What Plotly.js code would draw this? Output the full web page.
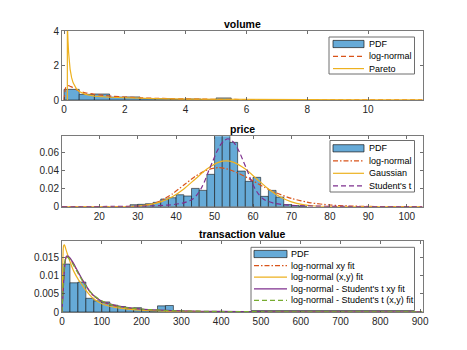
<!DOCTYPE html>
<html>
<head>
<meta charset="utf-8">
<script src="https://cdn.plot.ly/plotly-3.0.1.min.js"></script>
<style>
  html, body { margin: 0; padding: 0; background: #fff; }
  #chart { width: 467px; height: 350px; }
</style>
</head>
<body>
<div id="chart"></div>
<script>
// === Data ===

// volume
const volBinWidth = 0.5;
const volBinStart = [0, 0.5, 1, 1.5, 2, 2.5, 3, 3.5, 4, 4.5, 5];
const volPdf = [0.62, 0.33, 0.35, 0.17, 0.18, 0.08, 0.08, 0.04, 0.06, 0.02, 0.12];
const volLnX = [0, 0.02, 0.05, 0.1, 0.15, 0.2, 0.3, 0.4, 0.5, 0.7, 1, 1.3, 1.6, 2, 2.5, 3, 3.5, 4, 5, 6, 7, 8, 10, 11.8];
const volLnY = [0, 0.3, 0.7, 0.84, 0.84, 0.8, 0.72, 0.61, 0.52, 0.42, 0.33, 0.27, 0.22, 0.17, 0.13, 0.1, 0.08, 0.062, 0.04, 0.027, 0.019, 0.014, 0.008, 0.005];
const volParX = [0.11, 0.11, 0.13, 0.15, 0.2, 0.25, 0.3, 0.4, 0.5, 0.7, 1, 1.5, 2, 3, 4, 6, 8, 10, 11.8];
const volParY = [0, 4.5, 3.5, 2.8, 1.8, 1.3, 1.0, 0.68, 0.5, 0.33, 0.23, 0.16, 0.12, 0.08, 0.055, 0.03, 0.018, 0.012, 0.009];

// price
const priceBinWidth = 2;
const priceBinStart = [28, 30, 32, 34, 36, 38, 40, 42, 44, 46, 48, 50, 52, 54, 56, 58, 60, 62, 64, 66, 68, 70, 72];
const pricePdf = [0.0022, 0.0026, 0.0033, 0.0048, 0.0085, 0.0099, 0.0132, 0.0118, 0.0202, 0.018, 0.0357, 0.088, 0.086, 0.071, 0.0393, 0.028, 0.0324, 0.0114, 0.018, 0.0106, 0.0023, 0.0012, 0.0006];
const priceLnX = [10.3, 25, 30, 33, 36, 39, 42, 45, 48, 51, 54, 57, 60, 63, 66, 70, 75, 80, 85, 90, 104.1];
const priceLnY = [0, 0.00002, 0.00055, 0.0023, 0.0066, 0.0141, 0.0239, 0.0337, 0.0404, 0.0432, 0.0408, 0.0353, 0.0285, 0.0214, 0.0153, 0.0091, 0.0043, 0.0019, 0.00076, 0.0003, 0.00002];
const priceGaussX = [10.3, 25, 30, 33, 36, 39, 42, 45, 48, 51, 53, 55, 58, 61, 64, 67, 70, 73, 76, 81, 90, 104.1];
const priceGaussY = [0, 0.0001, 0.0008, 0.0022, 0.0053, 0.0109, 0.0196, 0.0306, 0.0415, 0.0489, 0.0505, 0.0489, 0.0415, 0.0306, 0.0196, 0.0109, 0.0053, 0.0022, 0.0008, 0.0001, 0, 0];
const priceTX = [10.3, 23.5, 33.5, 38.5, 41.5, 43.5, 44.5, 45.5, 46.5, 47.5, 48.5, 49.5, 50.5, 51.5, 52.5, 53.5, 54.5, 55.5, 56.5, 57.5, 58.5, 59.5, 60.5, 61.5, 62.5, 63.5, 65.5, 68.5, 73.5, 83.5, 98.5, 104.1];
const priceTY = [0.0001, 0.0003, 0.0009, 0.002, 0.0038, 0.0065, 0.009, 0.0135, 0.02, 0.029, 0.04, 0.05, 0.06, 0.068, 0.073, 0.075, 0.073, 0.068, 0.06, 0.05, 0.04, 0.029, 0.02, 0.0135, 0.009, 0.0065, 0.0038, 0.002, 0.0009, 0.0003, 0.0001, 0.0001];

// transaction value
const tvBinWidth = 20;
const tvBinStart = [0, 20, 40, 60, 80, 100, 120, 140, 160, 180, 200, 220, 240, 260, 280, 300, 320];
const tvPdf = [0.0133, 0.0081, 0.0083, 0.0038, 0.0031, 0.0028, 0.0019, 0.0015, 0.0009, 0.0012, 0.0005, 0.0003, 0.0017, 0.0018, 0.0002, 0.0001, 0.0001];
const tvX = [0, 2, 4, 6, 8, 10, 12, 15, 20, 25, 30, 40, 50, 60, 70, 80, 100, 120, 150, 200, 250, 300, 400, 500, 600, 700, 800, 906];
const tvLnXY = [0, 0.0045, 0.0088, 0.0122, 0.0143, 0.0152, 0.0154, 0.0153, 0.0147, 0.0139, 0.013, 0.011, 0.009, 0.0073, 0.0056, 0.0044, 0.0029, 0.0021, 0.0013, 0.0007, 0.0004, 0.0002, 0.0001, 0.00005, 0.00002, 0.00001, 0, 0];
const tvLnPair = [0, 0.0135, 0.0184, 0.0186, 0.0181, 0.0173, 0.0166, 0.0156, 0.014, 0.0125, 0.0112, 0.0092, 0.0076, 0.006, 0.0047, 0.0036, 0.0023, 0.0016, 0.001, 0.0005, 0.0003, 0.0002, 0.0001, 0.00005, 0.00002, 0.00001, 0, 0];
const tvLnTXY = [0, 0.004, 0.008, 0.0115, 0.0139, 0.0151, 0.0155, 0.0155, 0.015, 0.0142, 0.0133, 0.0112, 0.0092, 0.0074, 0.0057, 0.0045, 0.003, 0.0023, 0.0015, 0.0008, 0.0005, 0.0003, 0.00015, 0.00008, 0.00005, 0.00003, 0.00002, 0.00001];
const tvLnTPair = [0, 0.005, 0.0095, 0.0128, 0.0146, 0.0152, 0.0153, 0.0151, 0.0145, 0.0137, 0.0128, 0.0108, 0.0089, 0.0072, 0.0058, 0.0046, 0.0031, 0.0022, 0.0014, 0.0008, 0.0005, 0.0003, 0.00015, 0.00008, 0.00005, 0.00003, 0.00002, 0.00001];

// === Styling ===
const FONT = '"Liberation Sans", Arial, Helvetica, sans-serif';
const C_BAR = 'rgb(102,170,215)';
const C_EDGE = 'rgba(20,20,20,0.85)';
const C_RED = '#D95319';
const C_YEL = '#EDB120';
const C_PUR = '#7E2F8E';
const C_GRN = '#77AC30';
const DASH = '5px,3px';
const DASHDOT = '5px,2px,1.5px,2px';

// pixel -> paper helpers (margins are zero, so paper == page)
const W = 467, H = 350;
const px = v => v / W;
const py = v => 1 - v / H;
const X0 = 62, X1 = 422.5;

function bars(xs, ys, w, ax) {
    return {
        type: 'bar', x: xs, y: ys, width: w, offset: 0,
        marker: { color: C_BAR, line: { color: C_EDGE, width: 0.7 } },
        xaxis: 'x' + ax, yaxis: 'y' + ax, showlegend: false, hoverinfo: 'skip'
    };
}

function curve(xs, ys, color, dash, ax, shape) {
    return {
        type: 'scatter', mode: 'lines', x: xs, y: ys,
        line: { color: color, width: 1.2, dash: dash, shape: shape || 'spline', smoothing: 0.6 },
        xaxis: 'x' + ax, yaxis: 'y' + ax, showlegend: false, hoverinfo: 'skip'
    };
}

const traces = [
    bars(volBinStart, volPdf, volBinWidth, ''),
    curve(volLnX, volLnY, C_RED, DASH, ''),
    curve(volParX, volParY, C_YEL, 'solid', '', 'linear'),

    bars(priceBinStart, pricePdf, priceBinWidth, '2'),
    curve(priceLnX, priceLnY, C_RED, DASHDOT, '2'),
    curve(priceGaussX, priceGaussY, C_YEL, 'solid', '2'),
    curve(priceTX, priceTY, C_PUR, DASH, '2'),

    bars(tvBinStart, tvPdf, tvBinWidth, '3'),
    curve(tvX, tvLnXY, C_RED, DASHDOT, '3'),
    curve(tvX, tvLnPair, C_YEL, 'solid', '3'),
    curve(tvX, tvLnTXY, C_PUR, 'solid', '3'),
    curve(tvX, tvLnTPair, C_GRN, DASH, '3')
];

const axisBase = {
    showline: true, linecolor: '#7a7a7a', linewidth: 1, mirror: 'ticks',
    ticks: 'inside', ticklen: 3, tickwidth: 0.8, tickcolor: '#4a4a4a',
    showgrid: false, zeroline: false, fixedrange: true,
    tickfont: { family: FONT, size: 10, color: '#262626' }
};

function xAxis(range, dtick, anchor) {
    return Object.assign({}, axisBase, { domain: [px(X0), px(X1)], range: range, dtick: dtick, tick0: 0, anchor: anchor });
}
function yAxis(top, bottom, range, dtick, anchor) {
    return Object.assign({}, axisBase, { domain: [py(bottom), py(top)], range: range, dtick: dtick, tick0: 0, anchor: anchor });
}

const shapes = [];
const annotations = [];

function title(text, top) {
    annotations.push({
        xref: 'paper', yref: 'paper', x: px((X0 + X1) / 2), y: py(top - 7.5),
        xanchor: 'center', yanchor: 'middle', showarrow: false,
        text: '<b>' + text + '</b>', font: { family: FONT, size: 10.5, color: '#000' }
    });
}

// MATLAB-style legend box drawn with shapes + annotations
function legend(box, items) {
    shapes.push({
        type: 'rect', xref: 'paper', yref: 'paper', layer: 'above',
        x0: px(box.x0), x1: px(box.x1), y0: py(box.y1), y1: py(box.y0),
        line: { color: '#6e6e6e', width: 1 }, fillcolor: '#fff'
    });
    items.forEach((it, i) => {
        const cy = box.row0 + i * box.gap;
        if (it.kind === 'bar') {
            shapes.push({
                type: 'rect', xref: 'paper', yref: 'paper', layer: 'above',
                x0: px(box.s0), x1: px(box.s1), y0: py(cy + 3.6), y1: py(cy - 3.6),
                line: { color: C_EDGE, width: 0.8 }, fillcolor: C_BAR
            });
        } else {
            shapes.push({
                type: 'line', xref: 'paper', yref: 'paper', layer: 'above',
                x0: px(box.s0), x1: px(box.s1), y0: py(cy), y1: py(cy),
                line: { color: it.color, width: 1.2, dash: it.dash }
            });
        }
        annotations.push({
            xref: 'paper', yref: 'paper', x: px(box.t0), y: py(cy),
            xanchor: 'left', yanchor: 'middle', showarrow: false,
            text: it.label, font: { family: FONT, size: 9, color: '#000' }
        });
    });
}

title('volume', 31);
title('price', 136.3);
title('transaction value', 241);

legend({ x0: 329, x1: 414.5, y0: 37, y1: 74, row0: 44, gap: 12.3, s0: 333, s1: 364, t0: 366.5 }, [
    { kind: 'bar', label: 'PDF' },
    { label: 'log-normal', color: C_RED, dash: DASH },
    { label: 'Pareto', color: C_YEL, dash: 'solid' }
]);
legend({ x0: 330, x1: 414.5, y0: 140.5, y1: 192, row0: 148.3, gap: 12.5, s0: 333, s1: 364, t0: 366.5 }, [
    { kind: 'bar', label: 'PDF' },
    { label: 'log-normal', color: C_RED, dash: DASHDOT },
    { label: 'Gaussian', color: C_YEL, dash: 'solid' },
    { label: "Student's t", color: C_PUR, dash: DASH }
]);
legend({ x0: 251, x1: 414.5, y0: 247.3, y1: 310.5, row0: 254, gap: 11.6, s0: 254, s1: 287, t0: 288.5 }, [
    { kind: 'bar', label: 'PDF' },
    { label: 'log-normal xy fit', color: C_RED, dash: DASHDOT },
    { label: 'log-normal (x,y) fit', color: C_YEL, dash: 'solid' },
    { label: "log-normal - Student's t xy fit", color: C_PUR, dash: 'solid' },
    { label: "log-normal - Student's t (x,y) fit", color: C_GRN, dash: DASH }
]);

const layout = {
    width: W, height: H,
    margin: { l: 0, r: 0, t: 0, b: 0 },
    paper_bgcolor: '#fff', plot_bgcolor: '#fff',
    showlegend: false, hovermode: false,
    font: { family: FONT, color: '#262626' },
    xaxis: xAxis([-0.066, 11.79], 2, 'y'),
    yaxis: yAxis(31, 100, [0, 4.02], 2, 'x'),
    xaxis2: xAxis([10.3, 104.1], 10, 'y2'),
    yaxis2: yAxis(136.3, 206.7, [0, 0.0777], 0.02, 'x2'),
    xaxis3: xAxis([0, 906], 100, 'y3'),
    yaxis3: yAxis(241, 312, [0, 0.0197], 0.005, 'x3'),
    shapes: shapes,
    annotations: annotations
};

Plotly.newPlot('chart', traces, layout, { staticPlot: true });
</script>
</body>
</html>
